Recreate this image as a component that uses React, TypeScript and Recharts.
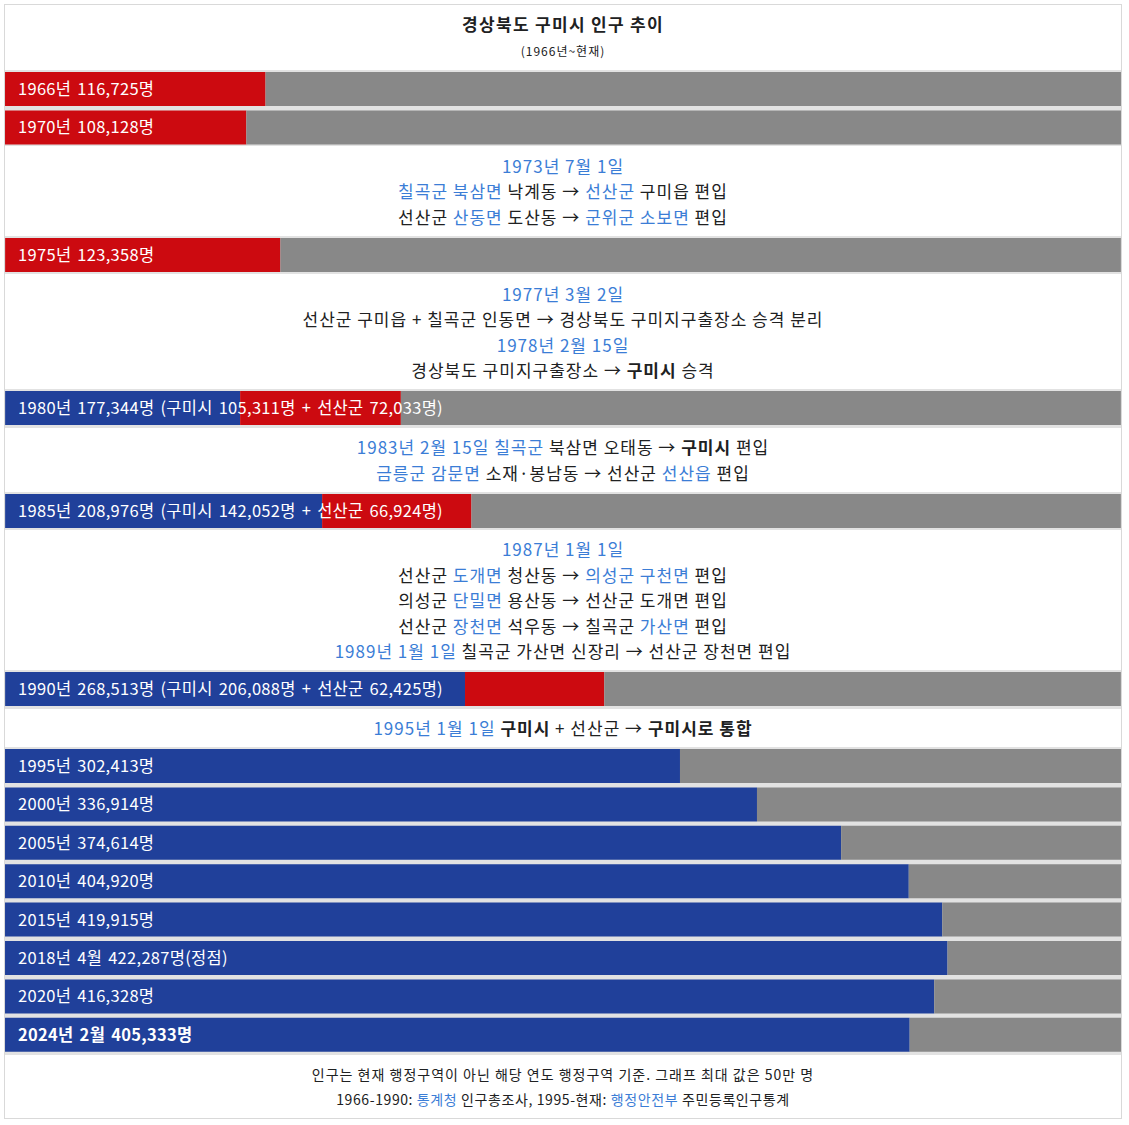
import React from "react";
import { BarChart, Bar, XAxis, YAxis, LabelList } from "recharts";

// population rows, top to bottom
const rowLabels = [
  "1966년 116,725명",
  "1970년 108,128명",
  "1975년 123,358명",
  "1980년 177,344명 (구미시 105,311명 + 선산군 72,033명)",
  "1985년 208,976명 (구미시 142,052명 + 선산군 66,924명)",
  "1990년 268,513명 (구미시 206,088명 + 선산군 62,425명)",
  "1995년 302,413명",
  "2000년 336,914명",
  "2005년 374,614명",
  "2010년 404,920명",
  "2015년 419,915명",
  "2018년 4월 422,287명(정점)",
  "2020년 416,328명",
  "2024년 2월 405,333명",
];
const blueValues = [0, 0, 0, 105311, 142052, 206088, 302413, 336914, 374614, 404920, 419915, 422287, 416328, 405333];
const redValues = [116725, 108128, 123358, 72033, 66924, 62425, 0, 0, 0, 0, 0, 0, 0, 0];
const boldRows = [13];
const MAX_POP = 500000; // graph max: 50만 명

// [start, end) row ranges, a note block follows each except the last
const rowGroups = [
  [0, 2],
  [2, 3],
  [3, 4],
  [4, 5],
  [5, 6],
  [6, 14],
];

type Seg = { t: string; c?: "b"; w?: "bold" };
const notes: Seg[][][] = [
  [
    [{ t: "1973년 7월 1일", c: "b" }],
    [{ t: "칠곡군 북삼면", c: "b" }, { t: " 낙계동 → " }, { t: "선산군", c: "b" }, { t: " 구미읍 편입" }],
    [{ t: "선산군 " }, { t: "산동면", c: "b" }, { t: " 도산동 → " }, { t: "군위군 소보면", c: "b" }, { t: " 편입" }],
  ],
  [
    [{ t: "1977년 3월 2일", c: "b" }],
    [{ t: "선산군 구미읍 + 칠곡군 인동면 → 경상북도 구미지구출장소 승격 분리" }],
    [{ t: "1978년 2월 15일", c: "b" }],
    [{ t: "경상북도 구미지구출장소 → " }, { t: "구미시", w: "bold" }, { t: " 승격" }],
  ],
  [
    [{ t: "1983년 2월 15일", c: "b" }, { t: " " }, { t: "칠곡군", c: "b" }, { t: " 북삼면 오태동 → " }, { t: "구미시", w: "bold" }, { t: " 편입" }],
    [{ t: "금릉군 감문면", c: "b" }, { t: " 소재·봉남동 → 선산군 " }, { t: "선산읍", c: "b" }, { t: " 편입" }],
  ],
  [
    [{ t: "1987년 1월 1일", c: "b" }],
    [{ t: "선산군 " }, { t: "도개면", c: "b" }, { t: " 청산동 → " }, { t: "의성군 구천면", c: "b" }, { t: " 편입" }],
    [{ t: "의성군 " }, { t: "단밀면", c: "b" }, { t: " 용산동 → 선산군 도개면 편입" }],
    [{ t: "선산군 " }, { t: "장천면", c: "b" }, { t: " 석우동 → 칠곡군 " }, { t: "가산면", c: "b" }, { t: " 편입" }],
    [{ t: "1989년 1월 1일", c: "b" }, { t: " 칠곡군 가산면 신장리 → 선산군 장천면 편입" }],
  ],
  [
    [{ t: "1995년 1월 1일", c: "b" }, { t: " " }, { t: "구미시", w: "bold" }, { t: " + 선산군 → " }, { t: "구미시로 통합", w: "bold" }],
  ],
];

const footer: Seg[][] = [
  [{ t: "인구는 현재 행정구역이 아닌 해당 연도 행정구역 기준. 그래프 최대 값은 50만 명" }],
  [{ t: "1966-1990: " }, { t: "통계청", c: "b" }, { t: " 인구총조사, 1995-현재: " }, { t: "행정안전부", c: "b" }, { t: " 주민등록인구통계" }],
];

const FONT = "'Noto Sans CJK KR', 'Noto Sans', sans-serif";
const TEXT = "#202122";
const LINK = "#3b7dd6";
const BLUE = "#20409a";
const RED = "#cc0a10";
const GRAY = "#888888";
const SEP = "#e2e2e2";
const W = 1116;
const ROW_H = 38.4;
const LINE_H = 25.5;

function Line({ segs, spacing }: { segs: Seg[]; spacing?: number }) {
  return (
    <div style={spacing !== undefined ? { letterSpacing: spacing } : undefined}>
      {segs.map((s, i) => (
        <span key={i} style={{ color: s.c === "b" ? LINK : TEXT, fontWeight: s.w === "bold" ? 700 : 400 }}>
          {s.t}
        </span>
      ))}
    </div>
  );
}

function Note({ lines }: { lines: Seg[][] }) {
  return (
    <div
      style={{
        height: lines.length * LINE_H + 13,
        boxSizing: "border-box",
        paddingTop: 6.5,
        lineHeight: `${LINE_H}px`,
        fontSize: 17,
        letterSpacing: 1,
        textAlign: "center",
        whiteSpace: "nowrap",
      }}
    >
      {lines.map((l, i) => (
        <Line key={i} segs={l} />
      ))}
    </div>
  );
}

function rowLabel(props: any) {
  const { y, height, value } = props;
  const bold = boldRows.includes(rowLabels.indexOf(value));
  return (
    <text
      x={13}
      y={y + height / 2 - 1}
      dominantBaseline="central"
      fill="#ffffff"
      fontSize={16.5}
      letterSpacing={0.3}
      wordSpacing={2}
      fontFamily={FONT}
      fontWeight={bold ? 700 : 400}
    >
      {value}
    </text>
  );
}

function BarGroup({ start, end }: { start: number; end: number }) {
  const data = rowLabels.slice(start, end).map((label, k) => ({
    label,
    gumi: blueValues[start + k],
    seonsan: redValues[start + k],
    // unused part of the graph up to its max
    rest: MAX_POP - blueValues[start + k] - redValues[start + k],
  }));
  return (
    <div style={{ background: SEP, height: data.length * ROW_H }}>
      <BarChart
        width={W}
        height={data.length * ROW_H}
        data={data}
        layout="vertical"
        margin={{ top: 0, right: 0, bottom: 0, left: 0 }}
        barCategoryGap={2}
      >
        <XAxis type="number" domain={[0, MAX_POP]} hide />
        <YAxis type="category" dataKey="label" hide />
        <Bar dataKey="gumi" stackId="pop" fill={BLUE} isAnimationActive={false} />
        <Bar dataKey="seonsan" stackId="pop" fill={RED} isAnimationActive={false} />
        <Bar dataKey="rest" stackId="pop" fill={GRAY} isAnimationActive={false}>
          <LabelList dataKey="label" content={rowLabel} />
        </Bar>
      </BarChart>
    </div>
  );
}

export default function App() {
  return (
    <div style={{ fontFamily: FONT, color: TEXT }}>
      <style>{"body{margin:0}"}</style>
      <div
        style={{
          position: "absolute",
          left: 4,
          top: 4,
          width: W,
          border: "1px solid #d9d9d9",
          background: "#fff",
        }}
      >
        <div style={{ height: 64.5, textAlign: "center" }}>
          <div style={{ paddingTop: 6, lineHeight: "26px", fontSize: 17, letterSpacing: 1.3, fontWeight: 700 }}>
            경상북도 구미시 인구 추이
          </div>
          <div style={{ marginTop: 6, lineHeight: "16px", fontSize: 12, letterSpacing: 1 }}>(1966년~현재)</div>
        </div>
        {rowGroups.map(([s, e], i) => (
          <React.Fragment key={i}>
            <BarGroup start={s} end={e} />
            {notes[i] && <Note lines={notes[i]} />}
          </React.Fragment>
        ))}
        <div
          style={{
            height: 63,
            paddingTop: 7.5,
            boxSizing: "border-box",
            lineHeight: "25px",
            fontSize: 14,
            textAlign: "center",
          }}
        >
          <Line segs={footer[0]} spacing={1} />
          <Line segs={footer[1]} spacing={0.6} />
        </div>
      </div>
    </div>
  );
}
